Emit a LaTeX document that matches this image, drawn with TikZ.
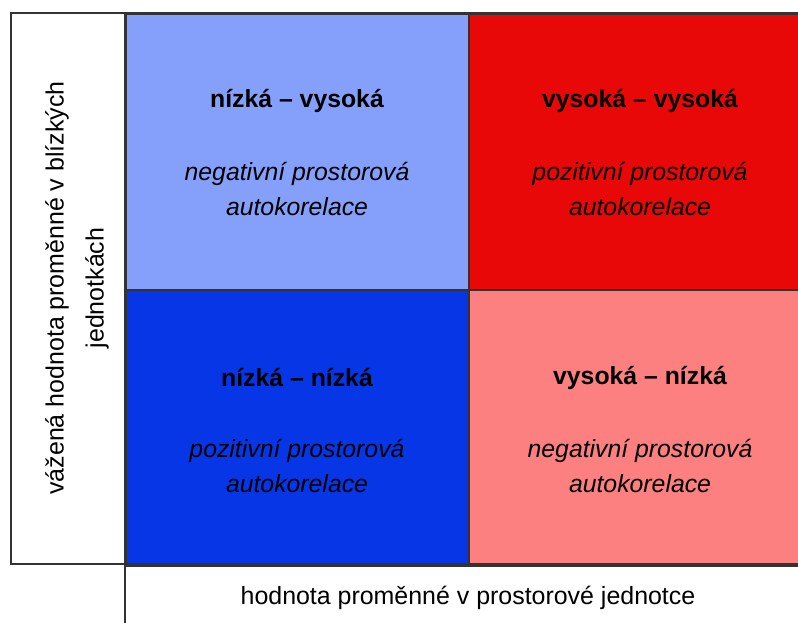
\documentclass[tikz,border=0pt]{standalone}
\usepackage{fontspec}
\setmainfont{Liberation Sans}
\usetikzlibrary{positioning}
\definecolor{lowhigh}{HTML}{85A0FB}
\definecolor{highhigh}{HTML}{E80808}
\definecolor{lowlow}{HTML}{0736E6}
\definecolor{highlow}{HTML}{FD8080}
\definecolor{frame}{HTML}{333333}

\begin{document}
\begin{tikzpicture}[x=0.75pt,y=-0.75pt,
        cell/.style={draw=frame,line width=1.2pt,inner sep=0pt,anchor=north west,
                minimum width=257pt,minimum height=207pt},
        title/.style={font=\fontsize{18.6}{22}\selectfont\bfseries},
        desc/.style={font=\fontsize{18.6}{26}\selectfont\itshape,align=center},
        axis/.style={font=\fontsize{18.7}{30}\selectfont,align=center}]
        \useasboundingbox (0,0) rectangle (798,623);
        \fill[white] (0,0) rectangle (798,623);
        % quadrants
        \node[cell,fill=lowhigh] (lh) at (125,13) {};
        \node[cell,fill=highhigh,minimum width=252pt] (hh) at (468,13) {};
        \node[cell,fill=lowlow] (ll) at (125,289) {};
        \node[cell,fill=highlow,minimum width=252pt] (hl) at (468,289) {};
        % frame
        \draw[frame,line width=1.5pt] (800,13) -- (11,13) -- (11,564) -- (800,564);
        \draw[frame,line width=1.5pt] (125,13) -- (125,623);
        % texts
        \node[title] (lhT) at (297,101) {nízká – vysoká};
        \node[desc] (lhD) at (297,189) {negativní prostorová\\autokorelace};
        \node[title] (hhT) at (640,101) {vysoká – vysoká};
        \node[desc] (hhD) at (640,189) {pozitivní prostorová\\autokorelace};
        \node[title] (llT) at (297,378) {nízká – nízká};
        \node[desc] (llD) at (297,466) {pozitivní prostorová\\autokorelace};
        \node[title] (hlT) at (640,378) {vysoká – nízká};
        \node[desc] (hlD) at (640,466) {negativní prostorová\\autokorelace};
        \node[axis,rotate=90] (yLab) at (77,288) {vážená hodnota proměnné v blízkých\\jednotkách};
        \node[axis] (xLab) at (468,598) {hodnota proměnné v prostorové jednotce};
\end{tikzpicture}
\end{document}
